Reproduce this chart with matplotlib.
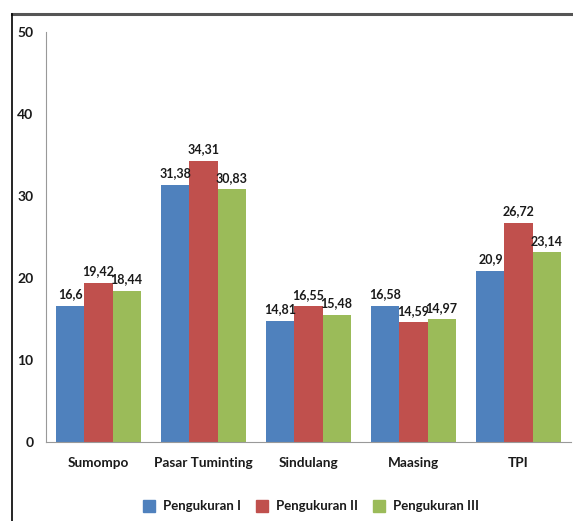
import numpy as np
import matplotlib.pyplot as plt
from matplotlib.lines import Line2D

categories = ["Sumompo", "Pasar Tuminting", "Sindulang", "Maasing", "TPI"]
series_names = ["Pengukuran I", "Pengukuran II", "Pengukuran III"]
peng_1 = [16.6, 31.38, 14.81, 16.58, 20.9]
peng_2 = [19.42, 34.31, 16.55, 14.59, 26.72]
peng_3 = [18.44, 30.83, 15.48, 14.97, 23.14]
labels_1 = ["16,6", "31,38", "14,81", "16,58", "20,9"]
labels_2 = ["19,42", "34,31", "16,55", "14,59", "26,72"]
labels_3 = ["18,44", "30,83", "15,48", "14,97", "23,14"]

colors = ["#4F81BD", "#C0504D", "#9BBB59"]
plt.rcParams['font.family'] = ['Lato', 'DejaVu Sans']

fig = plt.figure(figsize=(5.73, 5.21), dpi=100, facecolor='white')
ax = fig.add_axes([0.0803, 0.1516, 0.9162, 0.787])

x = np.arange(len(categories))
w = 0.267
for i, (vals, labs) in enumerate(zip([peng_1, peng_2, peng_3], [labels_1, labels_2, labels_3])):
    bars = ax.bar(x + (i - 1) * w, vals, w, color=colors[i], label=series_names[i])
    for b, lab in zip(bars, labs):
        ax.annotate(lab, (b.get_x() + b.get_width() / 2, b.get_height()),
                    xytext=(0, 4), textcoords='offset points', ha='center', va='bottom',
                    fontsize=9, fontweight='bold', color='#1a1a1a')

ax.set_xlim(-0.5, len(categories) - 0.5)
ax.set_ylim(0, 50)
ax.set_yticks(range(0, 51, 10))
ax.set_xticks(x)
ax.set_xticklabels(categories, fontsize=9.8, fontweight='bold', color='#1a1a1a')
ax.tick_params(axis='y', length=0, pad=9, labelsize=10, labelcolor='#1a1a1a')
ax.tick_params(axis='x', length=0, pad=11)
for t in ax.get_yticklabels():
    t.set_fontweight('bold')
for s in ['top', 'right']:
    ax.spines[s].set_visible(False)
ax.spines['left'].set_color('#999999')
ax.spines['bottom'].set_color('#999999')

handles = [Line2D([], [], marker='s', linestyle='', markersize=8, color=c) for c in colors]
fig.legend(handles, series_names, loc='center', bbox_to_anchor=(0.537, 0.028), ncol=3,
           frameon=False, handletextpad=0.05, columnspacing=0.6,
           prop={'size': 9.5, 'weight': 'bold'}, labelcolor='#1a1a1a')

# outer frame (top and left only)
fig.add_artist(Line2D([12 / 573, 1.0], [1 - 14 / 521, 1 - 14 / 521], color='#555555', lw=2.2,
                      transform=fig.transFigure))
fig.add_artist(Line2D([12 / 573, 12 / 573], [0, 1 - 14 / 521], color='black', lw=1.2,
                      transform=fig.transFigure))

fig.savefig("out.png", dpi=100)
